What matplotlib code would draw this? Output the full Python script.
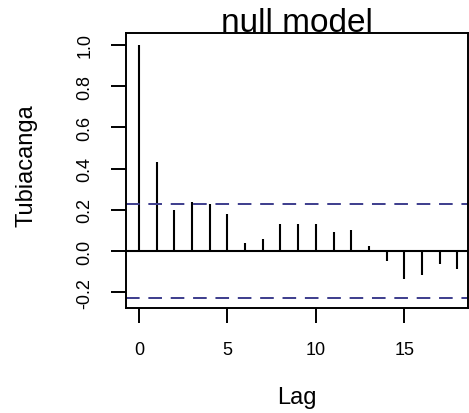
import matplotlib.pyplot as plt
import numpy as np
from matplotlib import font_manager

# ACF values for lags 0..18
lags = list(range(19))
acf = [1.0, 0.43, 0.20, 0.24, 0.23, 0.18, 0.04, 0.06, 0.13, 0.13,
       0.13, 0.09, 0.10, 0.026, -0.047, -0.136, -0.117, -0.063, -0.087]
ci = 0.228

yticks = [-0.2, 0.0, 0.2, 0.4, 0.6, 0.8, 1.0]
ytick_labels = ['-0.2', '0.0', '0.2', '0.4', '0.6', '0.8', '1.0']
xticks = [0, 5, 10, 15]

names = {f.name for f in font_manager.fontManager.ttflist}
narrow = 'Liberation Sans Narrow' if 'Liberation Sans Narrow' in names else 'Liberation Sans'

fig = plt.figure(figsize=(4.69, 4.14), dpi=100)
ax = fig.add_axes([126/469, 105/414, 342/469, 275/414])

ax.vlines(lags, 0, acf, color='black', linewidth=1.5)
ax.axhline(0, color='black', linewidth=1.5)
ax.axhline(ci, color='#3c3c8c', linewidth=1.4, dashes=(7, 4.5))
ax.axhline(-ci, color='#3c3c8c', linewidth=1.4, dashes=(7, 4.5))

ax.set_xlim(-0.73, 18.6)
ax.set_ylim(-0.277, 1.058)

ax.set_yticks(yticks)
ax.set_yticklabels(ytick_labels, rotation=90, va='center', family=narrow, fontsize=13)
ax.set_xticks(xticks)
ax.set_xticklabels([str(t) for t in xticks], family=narrow, fontsize=13)
ax.tick_params(length=10.5, width=1.4, pad=13)
for s in ax.spines.values():
    s.set_linewidth(1.4)

fig.text(297/469, 1 - 32/414, 'null model', ha='center', va='baseline',
         family='Liberation Sans', fontsize=24)
fig.text(297/469, 1 - 398/414, 'Lag', ha='center', va='center',
         family=narrow, fontsize=17)
fig.text(27/469, 1 - 166/414, 'Tubiacanga', ha='center', va='center',
         rotation=90, family=narrow, fontsize=17)

plt.savefig('out.png', dpi=100)
